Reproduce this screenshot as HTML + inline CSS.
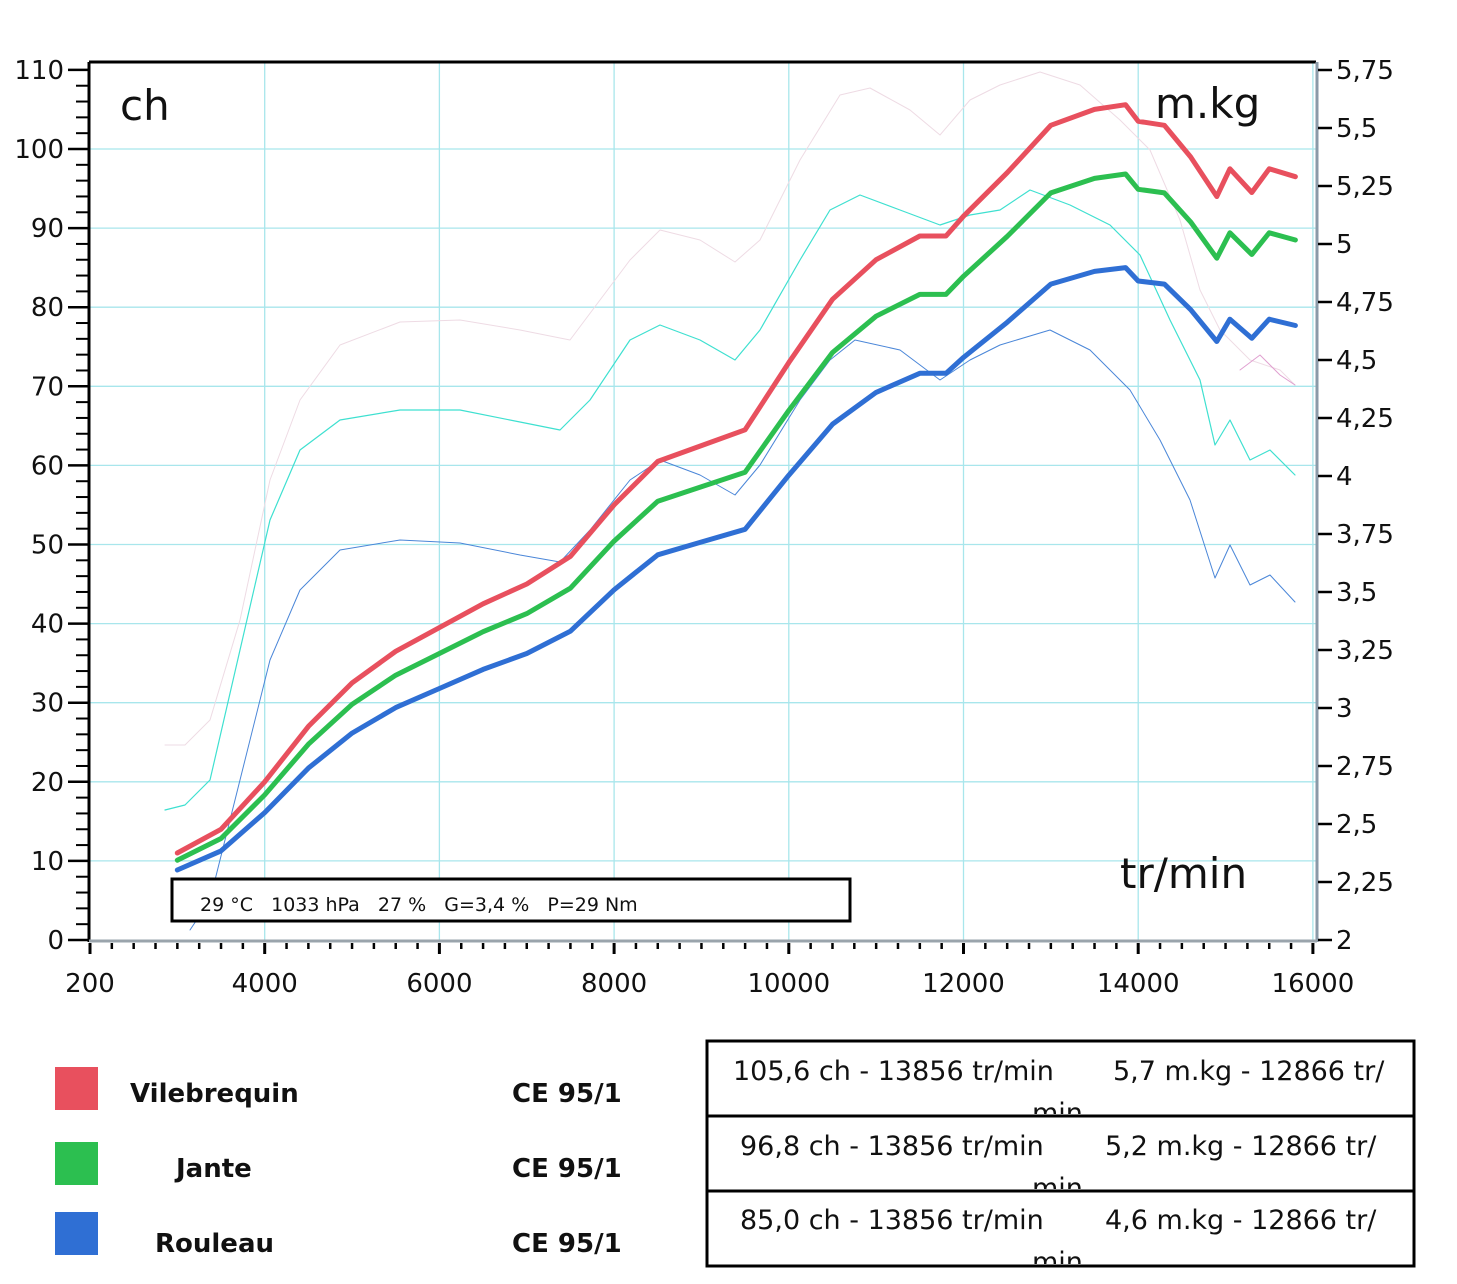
<!DOCTYPE html>
<html><head><meta charset="utf-8"><style>
body{margin:0;background:#fff;width:1457px;height:1284px;overflow:hidden;font-family:"DejaVu Sans","Liberation Sans",sans-serif}
svg{position:absolute;left:0;top:0}
</style></head><body>
<svg id="s" width="1457" height="1284" xmlns="http://www.w3.org/2000/svg" font-family="DejaVu Sans, Liberation Sans, sans-serif">
<defs>
<clipPath id="c1"><rect x="707" y="1041" width="707" height="73"/></clipPath>
<clipPath id="c2"><rect x="707" y="1116" width="707" height="73"/></clipPath>
<clipPath id="c3"><rect x="707" y="1191" width="707" height="73"/></clipPath>
</defs>
<g id="grid" stroke="#a8e6ec" stroke-width="1.3"></g>
<line x1="89" y1="62" x2="1316" y2="62" stroke="#000" stroke-width="3"/>
<line x1="1317" y1="62" x2="1317" y2="942" stroke="#8a9aa8" stroke-width="3"/>
<line x1="89" y1="62" x2="89" y2="942" stroke="#000" stroke-width="3"/>
<line x1="89" y1="941" x2="1317" y2="941" stroke="#9aa4ac" stroke-width="3"/>
<g id="ticks" stroke="#000" stroke-width="2.5"></g>
<g id="labels" font-size="26" fill="#111"></g>
<text x="120" y="120" font-size="42" fill="#111">ch</text>
<text x="1155" y="118" font-size="42" fill="#111">m.kg</text>
<text x="1120" y="888" font-size="42" fill="#111">tr/min</text>
<g id="curves" fill="none" stroke-linejoin="round" stroke-linecap="round"></g>
<rect x="172" y="879" width="678" height="42" fill="#fff" stroke="#000" stroke-width="3"/>
<text x="200" y="911" font-size="19" fill="#111" xml:space="preserve">29 °C   1033 hPa   27 %   G=3,4 %   P=29 Nm</text>
<rect x="55" y="1067" width="43" height="43" fill="#e8505e"/>
<rect x="55" y="1142" width="43" height="43" fill="#2cbf50"/>
<rect x="55" y="1212" width="43" height="43" fill="#2f6fd4"/>
<g font-size="26" font-weight="bold" fill="#111">
<text x="130" y="1102">Vilebrequin</text><text x="512" y="1102">CE 95/1</text>
<text x="176" y="1177">Jante</text><text x="512" y="1177">CE 95/1</text>
<text x="155" y="1252">Rouleau</text><text x="512" y="1252">CE 95/1</text>
</g>
<rect x="707" y="1041" width="707" height="225" fill="none" stroke="#000" stroke-width="3"/>
<line x1="707" y1="1116" x2="1414" y2="1116" stroke="#000" stroke-width="3"/>
<line x1="707" y1="1191" x2="1414" y2="1191" stroke="#000" stroke-width="3"/>
<g font-size="27" fill="#111">
<text x="733" y="1080">105,6 ch - 13856 tr/min</text><text x="1113" y="1080">5,7 m.kg - 12866 tr/</text>
<text x="1032" y="1122" clip-path="url(#c1)">min</text>
<text x="740" y="1155">96,8 ch - 13856 tr/min</text><text x="1105" y="1155">5,2 m.kg - 12866 tr/</text>
<text x="1032" y="1197" clip-path="url(#c2)">min</text>
<text x="740" y="1229">85,0 ch - 13856 tr/min</text><text x="1105" y="1229">4,6 m.kg - 12866 tr/</text>
<text x="1032" y="1271" clip-path="url(#c3)">min</text>
</g>
</svg>
<script>
const NS="http://www.w3.org/2000/svg";
function el(p,t,a,txt){const e=document.createElementNS(NS,t);for(const k in a)e.setAttribute(k,a[k]);if(txt!=null)e.textContent=txt;document.getElementById(p).appendChild(e);return e;}
const X=r=>90+(r-2000)*0.08735, Y=c=>940-c*7.91, YT=t=>940-(t-2)*232;
for(let r=4000;r<=16000;r+=2000){el('grid','line',{x1:X(r),y1:62,x2:X(r),y2:940});}
for(let c=10;c<=100;c+=10){el('grid','line',{x1:90,y1:Y(c),x2:1316,y2:Y(c)});}
for(let c=0;c<=110;c+=2){const big=c%10==0;el('ticks','line',{x1:big?68:76,y1:Y(c),x2:88,y2:Y(c),'stroke-width':big?2.5:2});}
for(let c=0;c<=110;c+=10){el('labels','text',{x:64,y:Y(c)+9,'text-anchor':'end'},c);}
for(let r=2000;r<=16000;r+=250){const big=r%2000==0;el('ticks','line',{x1:X(r),y1:943,x2:X(r),y2:big?954:949,'stroke-width':big?3:2.5});}
const xl=[[2000,'200'],[4000,'4000'],[6000,'6000'],[8000,'8000'],[10000,'10000'],[12000,'12000'],[14000,'14000'],[16000,'16000']];
for(const [r,l] of xl)el('labels','text',{x:X(r),y:992,'text-anchor':'middle'},l);
const tl=['2','2,25','2,5','2,75','3','3,25','3,5','3,75','4','4,25','4,5','4,75','5','5,25','5,5','5,75'];
tl.forEach((l,i)=>{const y=YT(2+i*0.25);el('ticks','line',{x1:1318,y1:y,x2:1332,y2:y});el('labels','text',{x:1336,y:y+9},l);});
const P=[[3000,11],[3500,14],[4000,20],[4500,27],[5000,32.5],[5500,36.5],[6000,39.5],[6500,42.5],[7000,45],[7500,48.5],[8000,55],[8500,60.5],[9000,62.5],[9500,64.5],[10000,73],[10500,81],[11000,86],[11500,89],[11800,89],[12000,91.5],[12500,97],[13000,103],[13500,105],[13856,105.6],[14000,103.5],[14300,103],[14600,99],[14900,94],[15050,97.5],[15300,94.5],[15500,97.5],[15800,96.5]];
function pw(f){return P.map(([r,c])=>X(r).toFixed(1)+','+Y(c*f).toFixed(1)).join(' ');}
function thin(pts,col,w){el('curves','polyline',{points:pts,stroke:col,'stroke-width':w});}
thin("165,745 185,745 210,720 240,620 270,480 300,400 340,345 400,322 460,320 520,330 570,340 600,300 630,260 660,230 700,240 735,262 760,240 800,160 840,95 870,88 910,110 940,135 970,100 1000,85 1040,72 1080,85 1120,120 1150,150 1180,220 1200,290 1220,330 1250,360 1280,370 1295,385","#eedbe4",1);
thin("165,810 185,805 210,780 240,650 270,520 300,450 340,420 400,410 460,410 520,422 560,430 590,400 630,340 660,325 700,340 735,360 760,330 800,260 830,210 860,195 900,210 940,225 970,215 1000,210 1030,190 1070,205 1110,225 1140,255 1170,320 1200,380 1215,445 1230,420 1250,460 1270,450 1295,475","#3ee0d0",1.2);
thin("190,930 210,900 240,780 270,660 300,590 340,550 400,540 460,543 520,555 560,562 590,530 630,480 660,460 700,475 735,495 760,465 800,400 830,360 855,340 900,350 940,380 970,360 1000,345 1050,330 1090,350 1130,390 1160,440 1190,500 1215,578 1230,545 1250,585 1270,575 1295,602","#4a86d8",1);
thin("1240,370 1260,355 1280,375 1295,385","#e0a0d0",1);
el('curves','polyline',{points:pw(1),stroke:'#e8505e','stroke-width':5});
el('curves','polyline',{points:pw(0.917),stroke:'#2cbf50','stroke-width':5});
el('curves','polyline',{points:pw(0.805),stroke:'#2f6fd4','stroke-width':5});
</script>
</body></html>
